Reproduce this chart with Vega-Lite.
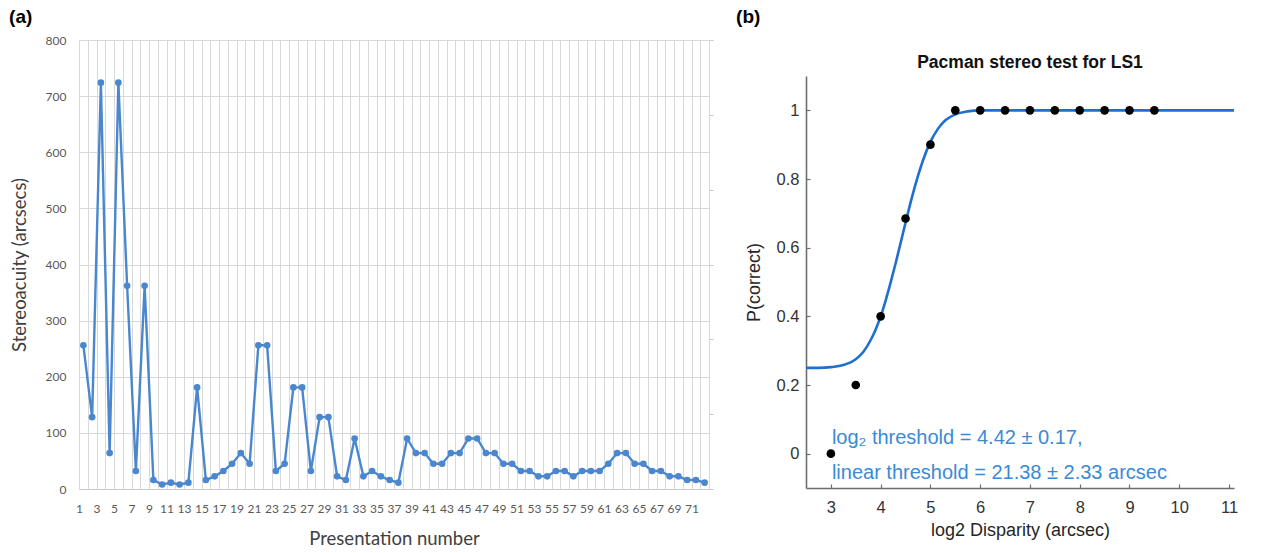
{
  "$schema": "https://vega.github.io/schema/vega-lite/v6.json",
  "background": "white",
  "padding": {"left": 9, "top": 8, "right": 5, "bottom": 0},
  "config": {"view": {"stroke": null}},
  "spacing": 22,
  "hconcat": [
    {
      "title": {"text": "(a)", "anchor": "start", "frame": "bounds", "font": "Liberation Sans", "fontSize": 19, "fontWeight": "bold", "color": "#000000", "offset": 7, "dx": -1},
      "width": 630,
      "height": 449,
      "data": {"values": [
        {"n": 1, "v": 256}, {"n": 2, "v": 128}, {"n": 3, "v": 724}, {"n": 4, "v": 64}, {"n": 5, "v": 724}, {"n": 6, "v": 362}, {"n": 7, "v": 32}, {"n": 8, "v": 362}, {"n": 9, "v": 16}, {"n": 10, "v": 8},
        {"n": 11, "v": 11.3}, {"n": 12, "v": 8}, {"n": 13, "v": 11.3}, {"n": 14, "v": 181}, {"n": 15, "v": 16}, {"n": 16, "v": 22.6}, {"n": 17, "v": 32}, {"n": 18, "v": 45}, {"n": 19, "v": 64}, {"n": 20, "v": 45},
        {"n": 21, "v": 256}, {"n": 22, "v": 256}, {"n": 23, "v": 32}, {"n": 24, "v": 45}, {"n": 25, "v": 181}, {"n": 26, "v": 181}, {"n": 27, "v": 32}, {"n": 28, "v": 128}, {"n": 29, "v": 128}, {"n": 30, "v": 22.6},
        {"n": 31, "v": 16}, {"n": 32, "v": 90}, {"n": 33, "v": 22.6}, {"n": 34, "v": 32}, {"n": 35, "v": 22.6}, {"n": 36, "v": 16}, {"n": 37, "v": 11.3}, {"n": 38, "v": 90}, {"n": 39, "v": 64}, {"n": 40, "v": 64},
        {"n": 41, "v": 45}, {"n": 42, "v": 45}, {"n": 43, "v": 64}, {"n": 44, "v": 64}, {"n": 45, "v": 90}, {"n": 46, "v": 90}, {"n": 47, "v": 64}, {"n": 48, "v": 64}, {"n": 49, "v": 45}, {"n": 50, "v": 45},
        {"n": 51, "v": 32}, {"n": 52, "v": 32}, {"n": 53, "v": 22.6}, {"n": 54, "v": 22.6}, {"n": 55, "v": 32}, {"n": 56, "v": 32}, {"n": 57, "v": 22.6}, {"n": 58, "v": 32}, {"n": 59, "v": 32}, {"n": 60, "v": 32},
        {"n": 61, "v": 45}, {"n": 62, "v": 64}, {"n": 63, "v": 64}, {"n": 64, "v": 45}, {"n": 65, "v": 45}, {"n": 66, "v": 32}, {"n": 67, "v": 32}, {"n": 68, "v": 22.6}, {"n": 69, "v": 22.6}, {"n": 70, "v": 16},
        {"n": 71, "v": 16}, {"n": 72, "v": 11.3}
      ]},
      "layer": [
        {
          "mark": {"type": "line", "color": "#4a87cf", "strokeWidth": 2.4},
          "encoding": {
            "x": {"field": "n", "type": "quantitative", "scale": {"domain": [0.5, 72.5], "nice": false, "zero": false},
              "axis": {
                "values": [0.5,1.5,2.5,3.5,4.5,5.5,6.5,7.5,8.5,9.5,10.5,11.5,12.5,13.5,14.5,15.5,16.5,17.5,18.5,19.5,20.5,21.5,22.5,23.5,24.5,25.5,26.5,27.5,28.5,29.5,30.5,31.5,32.5,33.5,34.5,35.5,36.5,37.5,38.5,39.5,40.5,41.5,42.5,43.5,44.5,45.5,46.5,47.5,48.5,49.5,50.5,51.5,52.5,53.5,54.5,55.5,56.5,57.5,58.5,59.5,60.5,61.5,62.5,63.5,64.5,65.5,66.5,67.5,68.5,69.5,70.5,71.5,72.5],
                "tickCount": 200,
                "labelExpr": "((datum.value + 0.5) % 2 == 1 && datum.value < 72) ? ('' + (datum.value + 0.5)) : ''",
                "labelDx": 4.375, "labelOverlap": false, "labelFlush": false,
                "labelFont": "Lato", "labelFontSize": 12, "labelColor": "#595959", "labelPadding": 14,
                "ticks": false, "grid": true, "gridColor": "#d9d9d9", "gridWidth": 1,
                "domainColor": "#c8c8c8", "domainWidth": 1.2,
                "title": "Presentation number", "titleFont": "Lato", "titleFontSize": 18.5, "titleFontWeight": "normal", "titleColor": "#404040", "titlePadding": 15
              }},
            "y": {"field": "v", "type": "quantitative", "scale": {"domain": [0, 800], "nice": false},
              "axis": {
                "values": [0,100,200,300,400,500,600,700,800],
                "labelFont": "Lato", "labelFontSize": 12, "labelColor": "#595959", "labelPadding": 13,
                "ticks": false, "domain": false, "grid": true, "gridColor": "#d9d9d9", "gridWidth": 1.2,
                "title": "Stereoacuity (arcsecs)", "titleFont": "Lato", "titleFontSize": 18.5, "titleFontWeight": "normal", "titleColor": "#404040", "titlePadding": 16
              }}
          }
        },
        {
          "mark": {"type": "point", "filled": true, "color": "#4a87cf", "opacity": 1, "size": 44},
          "encoding": {
            "x": {"field": "n", "type": "quantitative"},
            "y": {"field": "v", "type": "quantitative",
              "axis": {"orient": "right", "values": [0, 133.33, 266.67, 400, 533.33, 666.67, 800], "labels": false, "grid": false, "title": null, "domain": false, "ticks": true, "tickSize": 4, "tickColor": "#c8c8c8"}}
          }
        }
      ],
      "resolve": {"axis": {"y": "independent"}}
    },
    {
      "title": {"text": "(b)", "anchor": "start", "frame": "bounds", "font": "Liberation Sans", "fontSize": 19, "fontWeight": "bold", "color": "#000000", "offset": 13, "dx": -9},
      "spacing": 0,
      "vconcat": [
        {
          "width": 428,
          "height": 13,
          "data": {"values": []},
          "mark": "point"
        },
        {
          "title": {"text": "Pacman stereo test for LS1", "anchor": "middle", "frame": "group", "font": "Liberation Sans", "fontSize": 17.5, "fontWeight": "bold", "color": "#111111", "offset": 5, "dx": 10},
          "width": 428,
          "height": 412,
          "layer": [
            {
              "data": {"values": [
                {"x": 2.5, "p": 0.25}, {"x": 2.75, "p": 0.25}, {"x": 3.0, "p": 0.252}, {"x": 3.25, "p": 0.258}, {"x": 3.5, "p": 0.275},
                {"x": 3.65, "p": 0.296}, {"x": 3.8, "p": 0.331}, {"x": 3.9, "p": 0.362}, {"x": 4.0, "p": 0.4}, {"x": 4.1, "p": 0.446},
                {"x": 4.2, "p": 0.498}, {"x": 4.3, "p": 0.554}, {"x": 4.42, "p": 0.625}, {"x": 4.55, "p": 0.702}, {"x": 4.65, "p": 0.758},
                {"x": 4.75, "p": 0.809}, {"x": 4.85, "p": 0.854}, {"x": 5.0, "p": 0.908}, {"x": 5.15, "p": 0.946}, {"x": 5.3, "p": 0.971},
                {"x": 5.5, "p": 0.988}, {"x": 5.75, "p": 0.997}, {"x": 6.0, "p": 1.0}, {"x": 7.0, "p": 1.0}, {"x": 8.0, "p": 1.0},
                {"x": 9.0, "p": 1.0}, {"x": 10.0, "p": 1.0}, {"x": 11.1, "p": 1.0}
              ]},
              "mark": {"type": "line", "color": "#1f6fd0", "strokeWidth": 2.6, "interpolate": "monotone"},
              "encoding": {
                "x": {"field": "x", "type": "quantitative", "scale": {"domain": [2.5, 11.1], "nice": false, "zero": false},
                  "axis": {
                    "values": [3,4,5,6,7,8,9,10,11], "format": "d",
                    "labelFont": "Liberation Sans", "labelFontSize": 16.5, "labelColor": "#333333", "labelPadding": 15,
                    "tickSize": -4, "tickColor": "#6e6e6e", "tickWidth": 1.2, "domainColor": "#6e6e6e", "domainWidth": 1.6, "grid": false,
                    "labelFlush": false,
                    "title": "log2 Disparity (arcsec)", "titleFont": "Liberation Sans", "titleFontSize": 18, "titleFontWeight": "normal", "titleColor": "#262626", "titlePadding": 6
                  }},
                "y": {"field": "p", "type": "quantitative", "scale": {"domain": [-0.1, 1.1], "nice": false, "zero": false},
                  "axis": {
                    "values": [0, 0.2, 0.4, 0.6, 0.8, 1], "labelExpr": "datum.value == 0 ? '0' : (datum.value == 1 ? '1' : format(datum.value, '.1f'))",
                    "labelFont": "Liberation Sans", "labelFontSize": 16.5, "labelColor": "#333333", "labelPadding": 11,
                    "tickSize": -4, "tickColor": "#6e6e6e", "tickWidth": 1.2, "domainColor": "#6e6e6e", "domainWidth": 1.6, "grid": false,
                    "labelFlush": false,
                    "title": "P(correct)", "titleFont": "Liberation Sans", "titleFontSize": 18, "titleFontWeight": "normal", "titleColor": "#262626", "titlePadding": 13
                  }}
              }
            },
            {
              "data": {"values": [
                {"x": 3, "p": 0}, {"x": 3.5, "p": 0.2}, {"x": 4, "p": 0.4}, {"x": 4.5, "p": 0.685}, {"x": 5, "p": 0.9},
                {"x": 5.5, "p": 1}, {"x": 6, "p": 1}, {"x": 6.5, "p": 1}, {"x": 7, "p": 1}, {"x": 7.5, "p": 1},
                {"x": 8, "p": 1}, {"x": 8.5, "p": 1}, {"x": 9, "p": 1}, {"x": 9.5, "p": 1}
              ]},
              "mark": {"type": "point", "filled": true, "color": "#000000", "opacity": 1, "size": 75},
              "encoding": {
                "x": {"field": "x", "type": "quantitative"},
                "y": {"field": "p", "type": "quantitative"}
              }
            },
            {
              "data": {"values": [
                {"x": 3.02, "p": 0.047, "label": "log₂ threshold = 4.42 ± 0.17,"},
                {"x": 3.02, "p": -0.057, "label": "linear threshold = 21.38 ± 2.33 arcsec"}
              ]},
              "mark": {"type": "text", "align": "left", "baseline": "middle", "font": "Liberation Sans", "fontSize": 20, "color": "#3a8ad8"},
              "encoding": {
                "x": {"field": "x", "type": "quantitative"},
                "y": {"field": "p", "type": "quantitative"},
                "text": {"field": "label"}
              }
            }
          ]
        }
      ]
    }
  ]
}
